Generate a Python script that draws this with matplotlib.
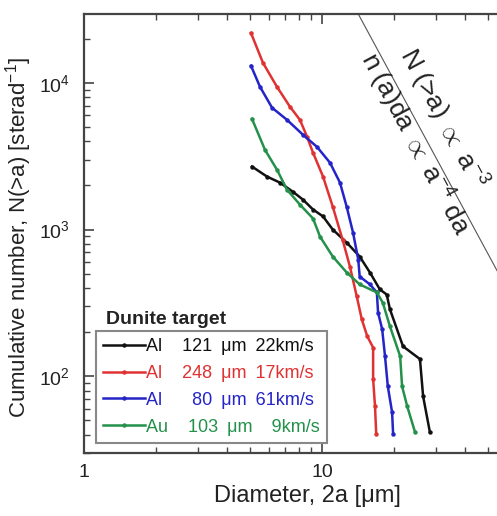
import numpy as np
import matplotlib
matplotlib.use("Agg")
import matplotlib.pyplot as plt
from matplotlib.ticker import FuncFormatter

plt.rcParams['font.family'] = ['Liberation Sans', 'DejaVu Sans']
plt.rcParams['mathtext.fontset'] = 'custom'
plt.rcParams['mathtext.rm'] = 'Liberation Sans'
plt.rcParams['mathtext.it'] = 'Liberation Sans:italic'

# crater fragment distributions, diameter [um] vs cumulative number [1/sr]
d_al121 = [5.08, 5.87, 6.66, 7.55, 8.32, 9.17, 10.1, 11.1, 12.7, 14.4, 15.9, 17.5,
           18.7, 19.3, 21.9, 25.8, 26.6, 28.4]
n_al121 = [2690, 2300, 2090, 1810, 1600, 1370, 1230, 1000, 816, 655, 510, 391,
           361, 286, 160, 131, 73, 41.6]

d_al248 = [5.03, 5.65, 6.47, 7.34, 8.08, 8.65, 9.17, 10.1, 11.1, 12.2, 13.1, 14.0,
           14.7, 15.5, 16.4, 16.4, 16.7, 16.9]
n_al248 = [21900, 13700, 9400, 6870, 5600, 4300, 3340, 2300, 1430, 855, 560, 350,
           244, 187, 157, 95.5, 62.5, 40.3]

d_al80 = [5.03, 5.49, 6.17, 7.13, 8.32, 9.52, 10.8, 11.9, 12.7, 13.5, 14.2, 14.4,
          15.9, 17.0, 17.2, 17.9, 18.4, 18.9, 19.7, 19.9]
n_al80 = [13100, 9400, 6770, 5600, 4430, 3670, 2860, 2090, 1430, 955, 625, 479,
          423, 373, 272, 209, 137, 85.5, 56.9, 40.3]

d_au103 = [5.08, 5.76, 6.47, 7.13, 8.08, 9.17, 9.81, 11.1, 12.7, 14.4, 17.0, 18.0,
           19.3, 21.3, 21.7, 22.8, 24.6]
n_au103 = [5690, 3500, 2560, 1870, 1480, 1190, 896, 655, 510, 423, 373, 318,
           219, 137, 85.5, 62.5, 41.6]

projectile = ['Al', 'Al', 'Al', 'Au']
size_um = [121, 248, 80, 103]
speed_kms = [22, 17, 61, 9]
colors = ['#111111', '#e03232', '#2424c8', '#24914a']

# reference power law N(>a) = C a^-3
law_coef = 8.45e7
law_exp = -3

fig = plt.figure(figsize=(4.97, 5.16), dpi=100)
ax = fig.add_axes([84 / 497, 63 / 516, 476 / 497, 439 / 516])

series = [(d_al121, n_al121), (d_al248, n_al248), (d_al80, n_al80), (d_au103, n_au103)]
fs = '\u2007'
gap = '\u2002'
for (d, n), p, s, v, c in zip(series, projectile, size_um, speed_kms, colors):
    s_txt = str(s).rjust(3).replace(' ', fs)
    v_txt = str(v).rjust(2).replace(' ', fs)
    label = f"{p}    {s_txt}{gap}\u03bcm{gap}{v_txt}km/s"
    ax.plot(d, n, color=c, lw=1.8, marker='o', ms=2.2, label=label)

xl = np.array([10.0, 100.0])
ax.plot(xl, law_coef * xl ** law_exp, color='#555555', lw=0.8)

ax.set_xscale('log')
ax.set_yscale('log')
ax.set_xlim(1, 100)
ax.set_ylim(30, 2.95e4)

ax.xaxis.set_major_formatter(FuncFormatter(lambda x, pos: f"{x:g}" if x < 50 else ''))
ax.tick_params(which='both', direction='in', top=True, right=True, colors='#444444',
               labelcolor='#222222')
ax.tick_params(which='major', length=7, width=1.2, labelsize=14)
ax.tick_params(which='minor', length=4, width=1.0)
ax.tick_params(axis='x', pad=8)
ax.tick_params(axis='y', pad=10)
for sp in ax.spines.values():
    sp.set_linewidth(1.6)
    sp.set_color('#444444')

ax.set_xlabel('Diameter, 2a [\u03bcm]', fontsize=17, color='#222222')
ax.xaxis.set_label_coords(0.469, -0.072)
ax.set_ylabel('Cumulative number, N(>a) [sterad$^{-1}$]', fontsize=16, color='#222222')
ax.yaxis.set_label_coords(-0.104, 0.49)

ang = -61.8
ax.text(32.2, 5690, 'N (>a) $\\propto$ a$^{-3}$', rotation=ang, rotation_mode='anchor',
        ha='center', va='center', fontsize=19, color='#222222',
        family=['Liberation Sans', 'DejaVu Sans'])
ax.text(24.6, 3850, 'n (a)da $\\propto$ a$^{-4}$ da', rotation=ang, rotation_mode='anchor',
        ha='center', va='center', fontsize=19, color='#222222',
        family=['Liberation Sans', 'DejaVu Sans'])

leg = ax.legend(loc='lower left', bbox_to_anchor=(0.025, 0.023), borderaxespad=0,
                fontsize=13, handlelength=2.3, handletextpad=0.1, labelspacing=0.55,
                borderpad=0.4, fancybox=False, framealpha=1, edgecolor='#888888')
leg.get_frame().set_linewidth(1.5)
for t, c in zip(leg.get_texts(), colors):
    t.set_color(c)

ax.text(0.046, 0.303, 'Dunite target', transform=ax.transAxes, fontsize=14,
        fontweight='bold', va='center', ha='left', color='#222222')

fig.savefig('out.png', dpi=100)
